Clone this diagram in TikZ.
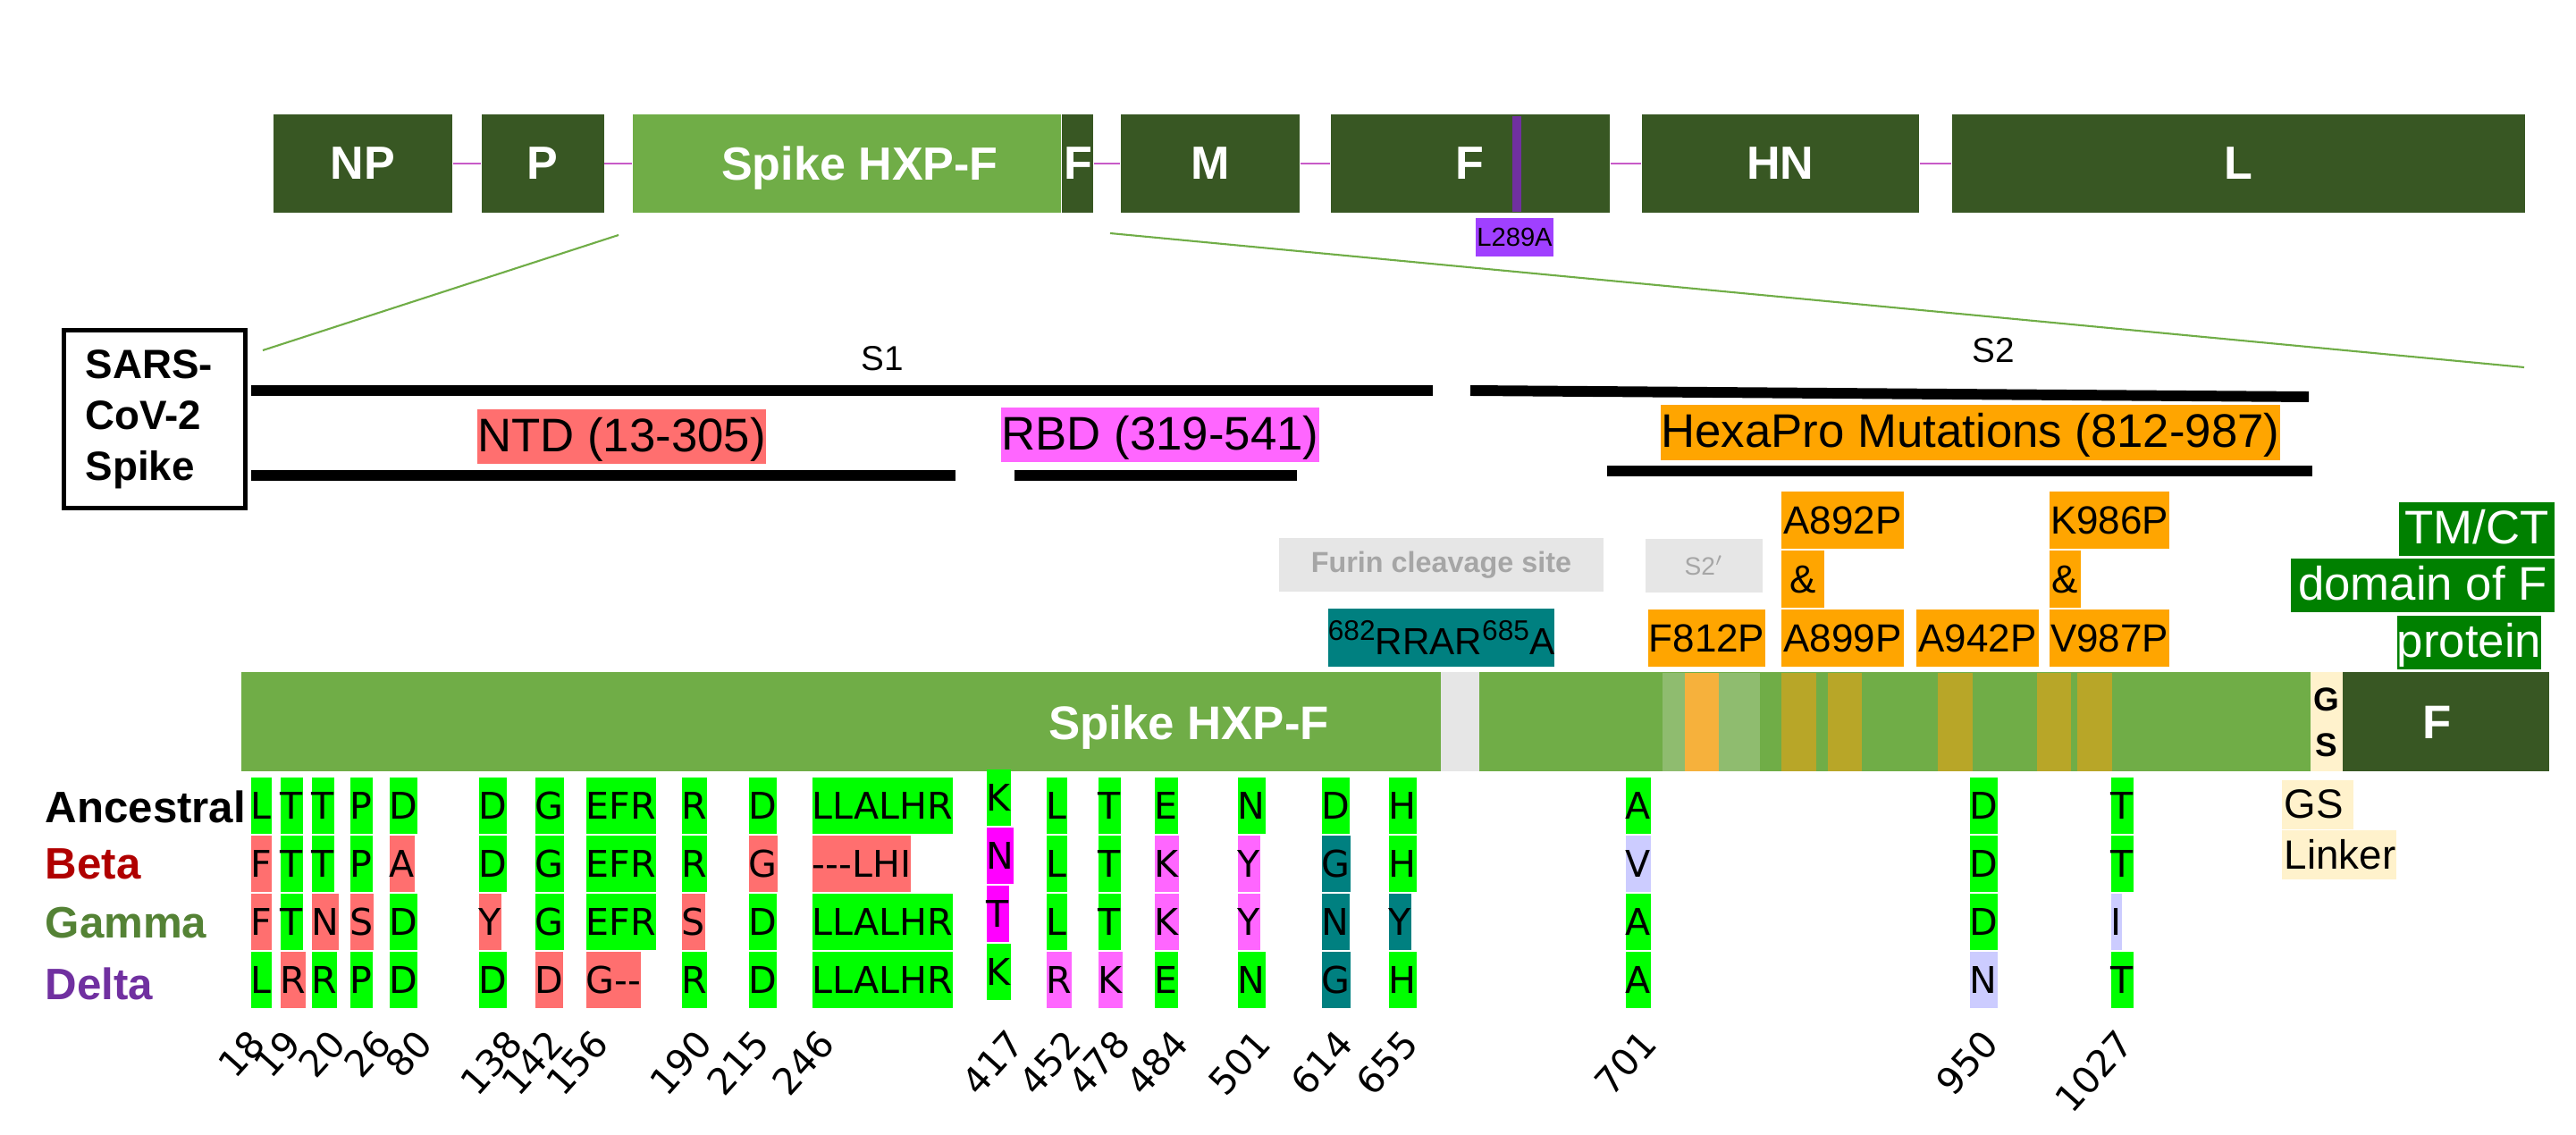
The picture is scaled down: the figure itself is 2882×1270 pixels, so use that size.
\documentclass[tikz,border=0pt]{standalone}
\usepackage{fontspec}
\setmainfont{Liberation Sans}
\newfontfamily\aafont{DejaVu Sans}
\usetikzlibrary{positioning}
\definecolor{genedark}{HTML}{385723}
\definecolor{genelight}{HTML}{70AD47}
\definecolor{genepale}{HTML}{8FBC6F}
\definecolor{linkpurple}{HTML}{C85AC8}
\definecolor{mutpurple}{HTML}{7030A0}
\definecolor{tagpurple}{HTML}{A040FF}
\definecolor{aagreen}{HTML}{00FF00}
\definecolor{aasalmon}{HTML}{FF6F6F}
\definecolor{aapink}{HTML}{FF66FF}
\definecolor{aamag}{HTML}{FF00FF}
\definecolor{aateal}{HTML}{008080}
\definecolor{aalav}{HTML}{CCCCFF}
\definecolor{hexorange}{HTML}{FFA500}
\definecolor{stripeorange}{HTML}{F6B13C}
\definecolor{stripeolive}{HTML}{B8A628}
\definecolor{furingrey}{HTML}{E6E6E6}
\definecolor{furintext}{HTML}{A6A6A6}
\definecolor{linkercream}{HTML}{FFF2CC}
\definecolor{tmgreen}{HTML}{008000}
\definecolor{betared}{HTML}{B00000}
\definecolor{gammagreen}{HTML}{548235}
\newcommand\supnum[1]{\raisebox{4.8pt}{\fontsize{9}{9}\selectfont #1}}

\begin{document}
\begin{tikzpicture}[x=0.01cm, y=-0.01cm,
    gene/.style={anchor=north west, minimum height=1.1cm, inner sep=0pt, fill=genedark, text=white, font=\bfseries\fontsize{14.8}{17}\selectfont},
    genelink/.style={draw=linkpurple, line width=0.7pt},
    zoomline/.style={draw=genelight, line width=0.6pt},
    domline/.style={line width=3.4pt},
    domlabel/.style={inner sep=0pt, minimum height=0.61cm, text height=12.6pt, text depth=3pt, font=\fontsize{15}{18}\selectfont},
    sitebox/.style={inner sep=0pt, minimum height=0.6cm, fill=furingrey, text=furintext},
    mutbox/.style={inner sep=0pt, minimum height=0.645cm, fill=hexorange, font=\fontsize{12.5}{15}\selectfont},
    tmbox/.style={inner sep=0pt, minimum height=0.6cm, text height=12.6pt, text depth=3pt, fill=tmgreen, text=white, font=\fontsize{15}{18}\selectfont},
    linkerbox/.style={anchor=north west, inner xsep=0.03cm, inner ysep=0pt, minimum height=0.55cm, align=left, fill=linkercream, font=\fontsize{13}{15}\selectfont},
    rowlabel/.style={anchor=base west, inner sep=0pt, font=\bfseries\fontsize{14}{16}\selectfont},
    aacell/.style={anchor=north west, inner sep=0pt, minimum height=0.635cm, font=\aafont\fontsize{11.7}{13}\selectfont},
    postxt/.style={anchor=south east, inner sep=0pt, rotate=48, font=\aafont\fontsize{11.7}{13}\selectfont}
]
\useasboundingbox (0,0) rectangle (2882,1270);

\node[gene, minimum width=2cm] (np) at (305,127) {NP};
\node[gene, minimum width=1.37cm] (p) at (538,127) {P};
\node[gene, minimum width=4.79cm, fill=genelight] (spike) at (707,127) {};
\node[anchor=base, text=white, font=\bfseries\fontsize{14.8}{17}\selectfont] (spikename) at (962,202) {Spike HXP-F};
\node[gene, minimum width=0.35cm] (spikef) at (spike.north east) {F};
\node[gene, minimum width=2cm] (m) at (1253,127) {M};
\node[gene, minimum width=3.12cm] (fgene) at (1488,127) {F};
\node[gene, minimum width=3.1cm] (hn) at (1836,127) {HN};
\node[gene, minimum width=6.41cm] (lgene) at (2183,127) {L};
\draw[genelink] (np) -- (p);
\draw[genelink] (p) -- (spike);
\draw[genelink] (spikef) -- (m);
\draw[genelink] (m) -- (fgene);
\draw[genelink] (fgene) -- (hn);
\draw[genelink] (hn) -- (lgene);
\draw[mutpurple, line width=3pt] (1697,130) -- (1697,237);
\node[fill=tagpurple, inner sep=0pt, minimum width=0.87cm, minimum height=0.43cm, font=\fontsize{8.3}{10}\selectfont] (l289a) at (1694.5,265.5) {L289A};

\coordinate (zoomA) at (692,263);
\coordinate (zoomB) at (294,392);
\coordinate (zoomC) at (1242,261);
\coordinate (zoomD) at (2824,411);
\draw[zoomline] (zoomA) -- (zoomB);
\draw[zoomline] (zoomC) -- (zoomD);

\node[draw, line width=1.5pt, anchor=north west, minimum width=2.03cm, minimum height=1.99cm, text width=1.55cm, align=left, inner sep=0pt, font=\bfseries\fontsize{13}{16.2}\selectfont] (sars) at (69,367) {SARS-\\CoV-2\\Spike};
\node[font=\fontsize{11}{13}\selectfont] (s1) at (987,401) {S1};
\node[font=\fontsize{11}{13}\selectfont] (s2) at (2230,392) {S2};
\draw[domline] (281,437) -- (1603,437);
\draw[domline] (1645,437) -- (2583,444);
\draw[domline] (281,532) -- (1069,532);
\draw[domline] (1135,532) -- (1451,532);
\draw[domline] (1798,527) -- (2587,527);
\node[domlabel, fill=aasalmon, minimum width=3.23cm] (ntd) at (695.5,488.5) {NTD (13-305)};
\node[domlabel, fill=aapink, minimum width=3.56cm] (rbd) at (1298,486.5) {RBD (319-541)};
\node[domlabel, fill=hexorange, minimum width=6.93cm] (hexapro) at (2204.5,484) {HexaPro Mutations (812-987)};

\node[sitebox, minimum width=3.63cm, font=\bfseries\fontsize{9.2}{11}\selectfont] (furin) at (1612.5,632) {Furin cleavage site};
\node[sitebox, minimum width=1.31cm, font=\fontsize{8}{10}\selectfont] (s2prime) at (1906.5,633) {S2$'$};
\node[inner sep=0pt, minimum width=2.51cm, minimum height=0.65cm, fill=aateal, font=\fontsize{12}{14}\selectfont] (rrar) at (1612.5,713.5) {\supnum{682}RRAR\supnum{685}A};
\node[mutbox, minimum width=1.31cm] (f812p) at (1909.5,714) {F812P};
\node[mutbox, minimum width=1.37cm] (a899p) at (2061.5,714) {A899P};
\node[mutbox, minimum width=0.48cm, above right=0pt and 0pt of a899p.north west] (amp1) {\&};
\node[mutbox, minimum width=1.37cm, above right=0pt and 0pt of amp1.north west] (a892p) {A892P};
\node[mutbox, minimum width=1.37cm] (a942p) at (2212.5,714) {A942P};
\node[mutbox, minimum width=1.34cm] (v987p) at (2360,714) {V987P};
\node[mutbox, minimum width=0.35cm, above right=0pt and 0pt of v987p.north west] (amp2) {\&};
\node[mutbox, minimum width=1.34cm, above right=0pt and 0pt of amp2.north west] (k986p) {K986P};
\node[tmbox, minimum width=1.74cm] (tmct) at (2771,592) {TM/CT};
\node[tmbox, minimum width=2.95cm] (tmdom) at (2710.5,655) {domain of F};
\node[tmbox, minimum width=1.61cm] (tmprot) at (2762.5,719) {protein};

\fill[genelight] (270,752) rectangle (2585,863);
\fill[furingrey] (1612,752) rectangle (1655,863);
\foreach \xa/\xb/\col in {1860/1885/genepale, 1885/1923/stripeorange, 1923/1969/genepale, 1993/2032/stripeolive, 2045/2083/stripeolive, 2168/2207/stripeolive, 2279/2317/stripeolive, 2324/2363/stripeolive}
    \fill[\col] (\xa,753) rectangle (\xb,863);
\fill[linkercream] (2585,752) rectangle (2621,863);
\fill[genedark] (2621,752) rectangle (2852,863);
\node[anchor=base, text=white, font=\bfseries\fontsize{15}{18}\selectfont] (barname) at (1330,827) {Spike HXP-F};
\node[align=center, inner sep=0pt, font=\bfseries\fontsize{10.5}{14.5}\selectfont] (gsname) at (2603,808) {G\\S};
\node[text=white, font=\bfseries\fontsize{15}{18}\selectfont] (fname) at (2727,808) {F};
\node[linkerbox, text width=0.74cm] (gs) at (2552,872) {GS};
\node[linkerbox, text width=1.22cm] (linker) at (2552,928) {Linker};

\node[rowlabel] (anc) at (50,920) {Ancestral};
\node[rowlabel, text=betared] (beta) at (50,983) {Beta};
\node[rowlabel, text=gammagreen] (gamma) at (50,1049) {Gamma};
\node[rowlabel, text=mutpurple] (delta) at (50,1118) {Delta};

\foreach \pos/\x/\dy/\nx/\ta/\ca/\tb/\cb/\tg/\cg/\td/\cd in {
    18/280/0/300/L/aagreen/F/aasalmon/F/aasalmon/L/aagreen,
    19/313/0/340/T/aagreen/T/aagreen/T/aagreen/R/aasalmon,
    20/348/0/390/T/aagreen/T/aagreen/N/aasalmon/R/aagreen,
    26/391/0/441/P/aagreen/P/aagreen/S/aasalmon/P/aagreen,
    80/435/0/487/D/aagreen/A/aasalmon/D/aagreen/D/aagreen,
    138/535/0/588/D/aagreen/D/aagreen/Y/aasalmon/D/aagreen,
    142/598/0/634/G/aagreen/G/aagreen/G/aagreen/D/aasalmon,
    156/655/0/684/EFR/aagreen/EFR/aagreen/EFR/aagreen/{G\mbox{-}\mbox{-}}/aasalmon,
    190/762/0/800/R/aagreen/R/aagreen/S/aasalmon/R/aagreen,
    215/837/0/864/D/aagreen/G/aasalmon/D/aagreen/D/aagreen,
    246/908/0/937/LLALHR/aagreen/{\mbox{-}\mbox{-}\mbox{-}LHI}/aasalmon/LLALHR/aagreen/LLALHR/aagreen,
    417/1103/9/1149/K/aagreen/N/aamag/T/aamag/K/aagreen,
    452/1170/0/1213/L/aagreen/L/aagreen/L/aagreen/R/aapink,
    478/1228/0/1268/T/aagreen/T/aagreen/T/aagreen/K/aapink,
    484/1291/0/1333/E/aagreen/K/aapink/K/aapink/E/aagreen,
    501/1384/0/1425/N/aagreen/Y/aapink/Y/aapink/N/aagreen,
    614/1478/0/1517/D/aagreen/G/aateal/N/aateal/G/aateal,
    655/1553/0/1590/H/aagreen/H/aagreen/Y/aateal/H/aagreen,
    701/1818/0/1857/A/aagreen/V/aalav/A/aagreen/A/aagreen,
    950/2203/0/2239/D/aagreen/D/aagreen/D/aagreen/N/aalav,
    1027/2361/0/2390/T/aagreen/T/aagreen/I/aalav/T/aagreen}{
    \node[aacell, fill=\ca] (a\pos) at (\x,869-\dy) {\ta};
    \node[aacell, fill=\cb] (b\pos) at (a\pos.south west) {\tb};
    \node[aacell, fill=\cg] (g\pos) at (b\pos.south west) {\tg};
    \node[aacell, fill=\cd] (d\pos) at (g\pos.south west) {\td};
    \node[postxt] (n\pos) at (\nx,1170) {\pos};
}
\end{tikzpicture}
\end{document}
